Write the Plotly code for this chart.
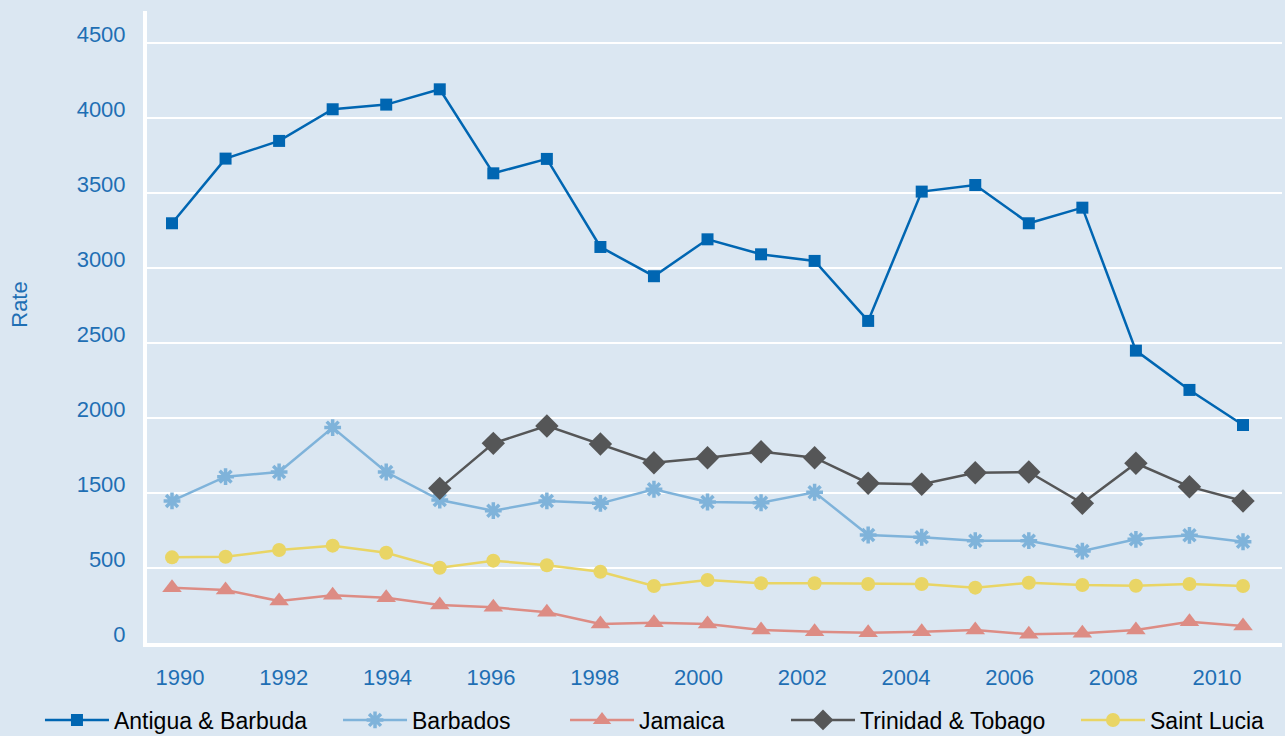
import plotly.graph_objects as go

# Years on the x axis
years = list(range(1990, 2011))
years_tt = list(range(1995, 2011))

# Values, in axis units (gridlines every 500)
antigua = [2798, 3229, 3347, 3558, 3589, 3691, 3131, 3227, 2640, 2445, 2691,
           2591, 2547, 2147, 3009, 3053, 2798, 2902, 1949, 1687, 1453]
barbados = [947, 1109, 1140, 1436, 1140, 953, 882, 947, 931, 1025, 940,
            935, 1005, 720, 705, 682, 682, 613, 691, 718, 675]
jamaica = [369, 353, 280, 318, 302, 253, 238, 205, 127, 135, 127,
           87, 75, 69, 75, 87, 58, 65, 87, 142, 113]
trinidad = [1031, 1331, 1447, 1327, 1202, 1235, 1275, 1235, 1065, 1058,
            1135, 1140, 931, 1198, 1042, 947]
st_lucia = [571, 575, 620, 649, 602, 502, 549, 518, 475, 380, 420,
            398, 398, 393, 393, 369, 402, 387, 382, 393, 380]

# Tick labels as printed on the original
y_tickvals = [0, 500, 1000, 1500, 2000, 2500, 3000, 3500, 4000]
y_ticktext = ['0', '500', '1500', '2000', '2500', '3000', '3500', '4000', '4500']
x_tickvals = list(range(1990, 2011, 2))

BG = '#dbe7f2'
TICK = '#1f6fb4'
FONT = 'Liberation Sans, Arial, sans-serif'

fig = go.Figure()

fig.add_trace(go.Scatter(x=years, y=antigua, name='Antigua & Barbuda', mode='lines+markers',
                         legend='legend',
                         line=dict(color='#0066b2', width=2.5),
                         marker=dict(symbol='square', size=12, color='#0066b2')))
fig.add_trace(go.Scatter(x=years, y=barbados, name='Barbados', mode='lines+markers',
                         legend='legend2',
                         line=dict(color='#7fb3da', width=2.5),
                         marker=dict(symbol='asterisk', size=14, color='#7fb3da',
                                     line=dict(color='#7fb3da', width=3.5))))
fig.add_trace(go.Scatter(x=years, y=jamaica, name='Jamaica', mode='lines+markers',
                         legend='legend3',
                         line=dict(color='#dd8c84', width=2.5),
                         marker=dict(symbol='triangle-up', size=17, color='#dd8c84')))
fig.add_trace(go.Scatter(x=years_tt, y=trinidad, name='Trinidad & Tobago', mode='lines+markers',
                         legend='legend4',
                         line=dict(color='#555657', width=2.5),
                         marker=dict(symbol='diamond', size=18, color='#555657')))
fig.add_trace(go.Scatter(x=years, y=st_lucia, name='Saint Lucia', mode='lines+markers',
                         legend='legend5',
                         line=dict(color='#e9d565', width=2.5),
                         marker=dict(symbol='circle', size=14, color='#e9d565')))

# empty trace so the label axis gets drawn
fig.add_trace(go.Scatter(x=[], y=[], xaxis='x2', showlegend=False, hoverinfo='skip'))


def legend_at(x):
    return dict(orientation='h', x=x, xanchor='left', y=-0.1218, yanchor='middle',
                font=dict(size=23, color='black'), itemwidth=64,
                bgcolor='rgba(0,0,0,0)')


fig.update_layout(
    width=1285, height=736,
    paper_bgcolor=BG, plot_bgcolor=BG,
    margin=dict(l=147, r=3, t=11, b=93, autoexpand=False),
    font=dict(family=FONT, size=20, color=TICK),
    xaxis=dict(range=[1989.533, 2010.728], showticklabels=False, showgrid=False,
               zeroline=False, showline=True, linecolor='white', linewidth=4, ticks=''),
    xaxis2=dict(overlaying='x', side='bottom', anchor='y', range=[1989.364, 2011.253],
                tickvals=x_tickvals, showgrid=False, zeroline=False, showline=False,
                ticks='', ticklabelstandoff=19, tickfont=dict(size=22, color=TICK)),
    yaxis=dict(range=[0, 4213], tickvals=y_tickvals, ticktext=y_ticktext,
               showgrid=True, gridcolor='white', gridwidth=2, zeroline=False,
               showline=True, linecolor='white', linewidth=4, ticks='',
               ticklabelstandoff=13, ticklabelshift=-9, tickfont=dict(size=22, color=TICK)),
    legend=legend_at(-0.0943),
    legend2=legend_at(0.1683),
    legend3=legend_at(0.3683),
    legend4=legend_at(0.5630),
    legend5=legend_at(0.8185),
    annotations=[dict(text='Rate', textangle=-90, xref='paper', yref='paper',
                      x=-0.112, y=0.535, xanchor='center', yanchor='middle',
                      showarrow=False, font=dict(size=22, color=TICK))],
    showlegend=True,
)

fig.write_html('out.html', config={'displayModeBar': False},
               post_script="document.body.style.margin='0';")
